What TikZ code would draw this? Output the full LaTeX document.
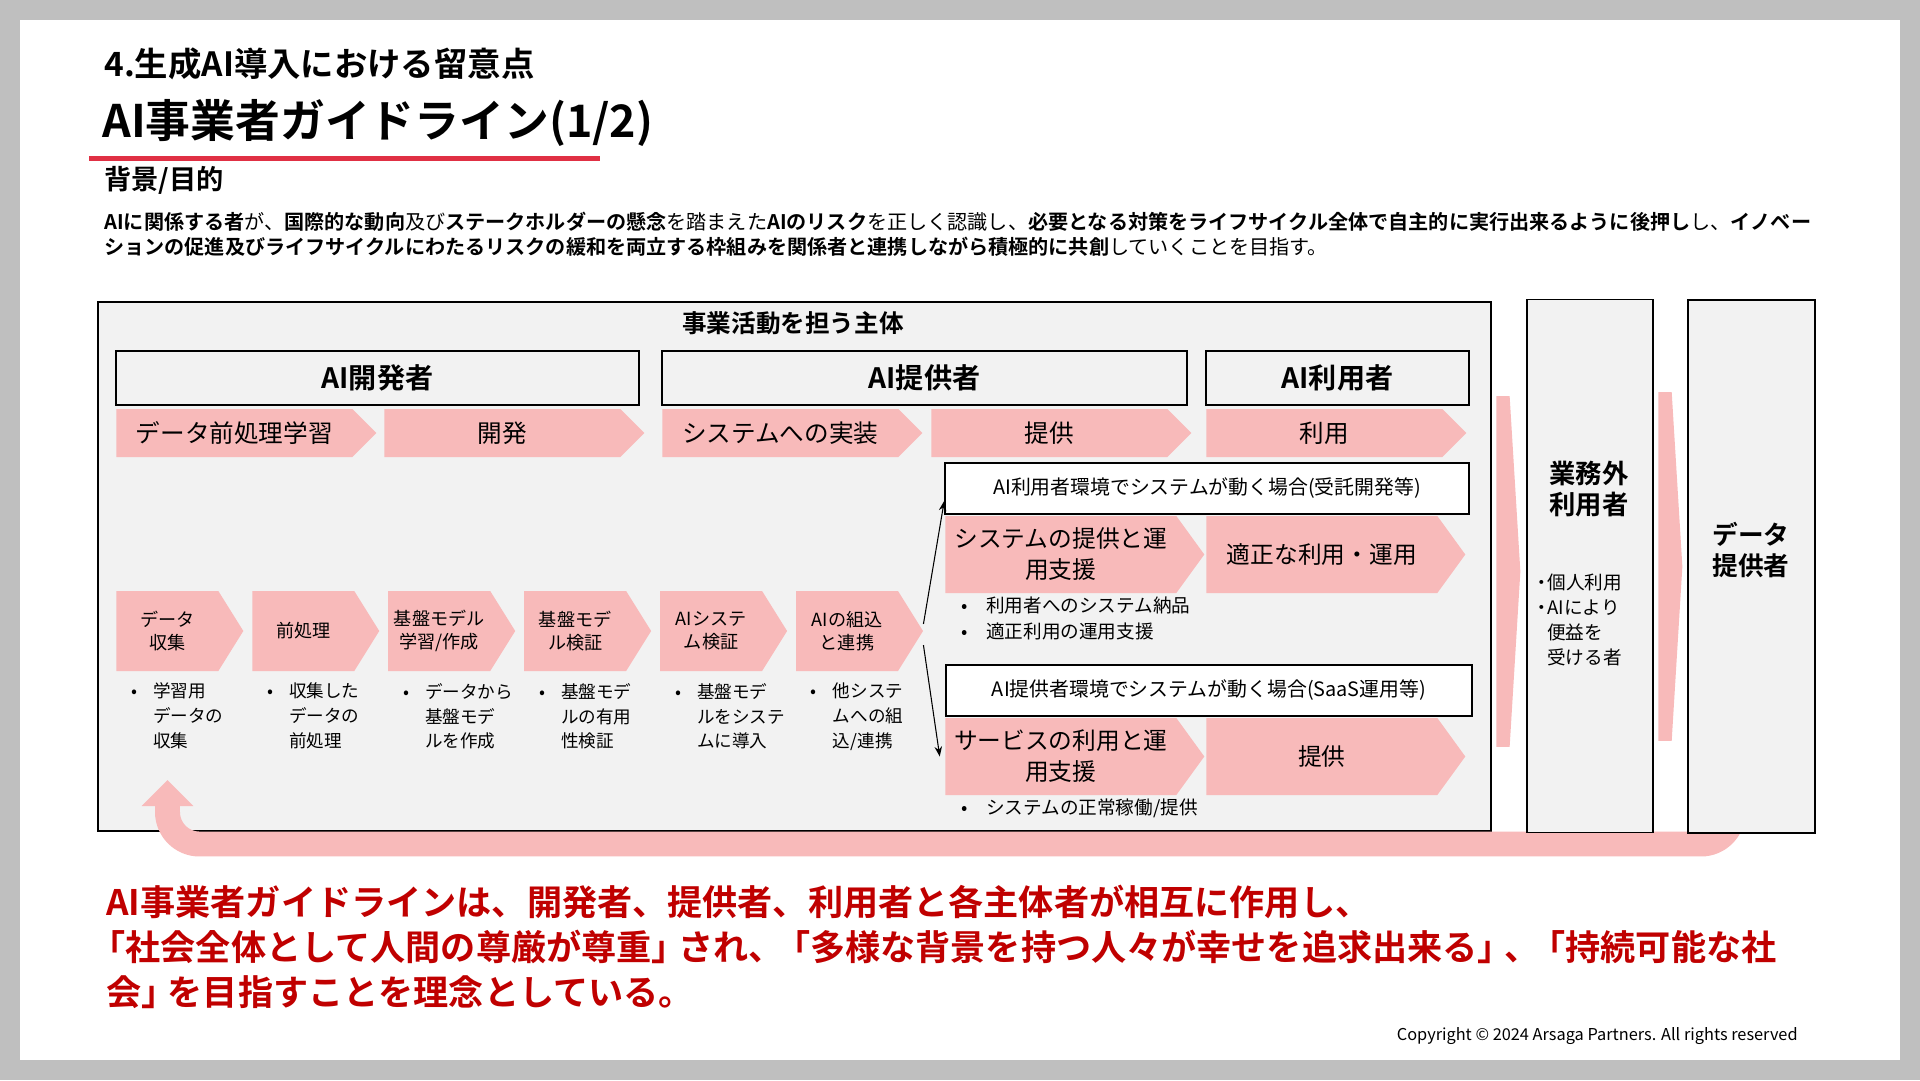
\documentclass[tikz,border=0pt]{standalone}
\usepackage{fontspec}
\setmainfont{Noto Sans CJK JP}[BoldFont={Noto Sans CJK JP Bold}]
\usetikzlibrary{arrows.meta,shapes.symbols,positioning,calc}
\definecolor{chevpink}{RGB}{248,186,186}
\definecolor{boxgray}{RGB}{242,242,242}
\definecolor{pagegray}{RGB}{191,191,191}
\definecolor{darkred}{RGB}{192,0,0}
\definecolor{linered}{RGB}{224,48,68}

\newcommand{\bu}[1][0.44cm]{\makebox[#1][l]{•}}
\newcommand{\ind}[1][0.44cm]{\hspace*{#1}}
\newcommand{\lk}{\kern-0.25em「}
\newcommand{\rk}{」\kern-0.25em}

\begin{document}
\begin{tikzpicture}[x=0.02cm, y=-0.02cm, >=Stealth,
        chev/.style={signal, signal to=east, fill=chevpink, inner sep=0pt, align=center, anchor=west},
        rowchev/.style={chev, minimum width=5.2cm, minimum height=0.96cm, signal pointer angle=90, font=\fontsize{14}{17}\selectfont},
        stepchev/.style={chev, minimum width=2.54cm, minimum height=1.6cm, signal pointer angle=116, font=\fontsize{10.3}{12.8}\selectfont},
        bigchev/.style={chev, minimum width=5.18cm, minimum height=1.54cm, signal pointer angle=108, font=\fontsize{13.5}{17.6}\selectfont},
        actor/.style={draw, line width=0.9pt, fill=boxgray, minimum height=1.08cm, font=\fontsize{16}{18}\selectfont\bfseries},
        envbox/.style={draw, line width=0.9pt, fill=white, minimum height=1.02cm, font=\fontsize{11.3}{13}\selectfont},
        sidebox/.style={draw, line width=0.9pt, fill=boxgray, minimum width=2.53cm, minimum height=10.66cm},
        bul/.style={anchor=north west, inner sep=0pt, align=left},
        tallarrow/.style={signal, signal to=east, fill=chevpink, inner sep=0pt, anchor=west, minimum width=0.48cm, signal pointer angle=173},
        link/.style={->, line width=0.6pt},
        loopband/.style={chevpink, line width=14.2pt, rounded corners=0.64cm, -{Triangle[length=0.52cm, width=1cm]}}]

    \useasboundingbox (0,0) rectangle (1920,1080);
    \fill[pagegray] (0,0) rectangle (1920,1080);
    \fill[white] (20,20) rectangle (1900,1060);

    % heading
    \node[anchor=west, inner sep=0pt, font=\fontsize{19}{22}\selectfont\bfseries] (section) at (104,64) {4.生成AI導入における留意点};
    \node[anchor=west, inner sep=0pt, font=\fontsize{25.5}{30}\selectfont\bfseries] (title) at (102,123) {AI事業者ガイドライン(1/2)};
    \draw[linered, line width=2.85pt] (89,158.5) -- (600,158.5);
    \node[anchor=west, inner sep=0pt, font=\fontsize{15.5}{18}\selectfont\bfseries] (bghead) at (104,180) {背景/目的};
    \node[anchor=west, inner sep=0pt, align=left, font=\fontsize{11.45}{14.2}\selectfont] (purpose) at (104,234.5) {\textbf{AIに関係する者}が、\textbf{国際的な動向}及び\textbf{ステークホルダーの懸念}を踏まえた\textbf{AIのリスク}を正しく認識し、\textbf{必要となる対策をライフサイクル全体で自主的に実行出来るように後押し}し、\textbf{イノベー}\\
        \textbf{ションの促進及びライフサイクルにわたるリスクの緩和を両立する枠組みを関係者と連携しながら積極的に共創}していくことを目指す。};

    % actors
    \node[draw, line width=0.9pt, fill=boxgray, minimum width=27.86cm, minimum height=10.58cm] (actors) at (794.5,566.5) {};
    \node[font=\fontsize{14}{17}\selectfont\bfseries] (actorshead) at (793,323) {事業活動を担う主体};

    \node[actor, minimum width=10.46cm] (dev) at (377.5,378) {AI開発者};
    \node[actor, minimum width=10.5cm] (prov) at (924.5,378) {AI提供者};
    \node[actor, minimum width=5.26cm] (user) at (1337.5,378) {AI利用者};

    \node[rowchev] (prep) at (116,433) {データ前処理学習};
    \node[rowchev] (devel) at (384,433) {開発};
    \node[rowchev] (impl) at (662,433) {システムへの実装};
    \node[rowchev] (supply) at (931,433) {提供};
    \node[rowchev] (usage) at (1206,433) {利用};

    % lifecycle steps
    \node[stepchev] (c1) at (116,631) {データ\\収集};
    \node[stepchev, right=0.164cm of c1] (c2) {前処理};
    \node[stepchev, right=0.164cm of c2] (c3) {基盤モデル\\学習/作成};
    \node[stepchev, right=0.164cm of c3] (c4) {基盤モデ\\ル検証};
    \node[stepchev, right=0.164cm of c4] (c5) {AIシステ\\ム検証};
    \node[stepchev, right=0.164cm of c5] (c6) {AIの組込\\と連携};

    \node[bul, font=\fontsize{10}{14.2}\selectfont] (n1) at ([xshift=8.5pt,yshift=-6.5pt]c1.south west) {\bu 学習用\\\ind データの\\\ind 収集};
    \node[bul, font=\fontsize{10}{14.2}\selectfont] (n2) at ([xshift=8.5pt,yshift=-6.5pt]c2.south west) {\bu 収集した\\\ind データの\\\ind 前処理};
    \node[bul, font=\fontsize{10}{14.2}\selectfont] (n3) at ([xshift=8.5pt,yshift=-6.5pt]c3.south west) {\bu データから\\\ind 基盤モデ\\\ind ルを作成};
    \node[bul, font=\fontsize{10}{14.2}\selectfont] (n4) at ([xshift=8.5pt,yshift=-6.5pt]c4.south west) {\bu 基盤モデ\\\ind ルの有用\\\ind 性検証};
    \node[bul, font=\fontsize{10}{14.2}\selectfont] (n5) at ([xshift=8.5pt,yshift=-6.5pt]c5.south west) {\bu 基盤モデ\\\ind ルをシステ\\\ind ムに導入};
    \node[bul, font=\fontsize{10}{14.2}\selectfont] (n6) at ([xshift=8.5pt,yshift=-6.5pt]c6.south west) {\bu 他システ\\\ind ムへの組\\\ind 込/連携};

    % two ways of running
    \node[envbox, minimum width=10.48cm] (env1) at (1207,488.5) {AI利用者環境でシステムが動く場合(受託開発等)};
    \node[bigchev] (sys) at (945,554.5) {システムの提供と運\\用支援};
    \node[bigchev] (use) at (1206,554.5) {適正な利用・運用};
    \node[bul, font=\fontsize{10.6}{14.8}\selectfont] (sysnote) at ([xshift=9pt,yshift=-2pt]sys.south west) {\bu[0.5cm]利用者へのシステム納品\\\bu[0.5cm]適正利用の運用支援};

    \node[envbox, minimum width=10.52cm] (env2) at (1209,690.5) {AI提供者環境でシステムが動く場合(SaaS運用等)};
    \node[bigchev] (svc) at (945,756.5) {サービスの利用と運\\用支援};
    \node[bigchev] (offer) at (1206,756.5) {提供};
    \node[bul, font=\fontsize{10.6}{14.8}\selectfont] (svcnote) at ([xshift=9pt,yshift=-2pt]svc.south west) {\bu[0.5cm]システムの正常稼働/提供};

    \draw[link] ([yshift=4pt]c6.east) -- ([yshift=-7pt]env1.west);
    \draw[link] ([yshift=-8pt]c6.east) -- ([xshift=-3pt]svc.west);

    % feedback loop
    \coordinate (loopstart) at (1733,800);
    \coordinate (looptip) at (167.5,780);
    \draw[loopband] (loopstart) |- ($(looptip)+(0,64)$) -- (looptip);

    % outside parties
    \node[tallarrow, minimum height=7.02cm] (toext) at (1496,571.5) {};
    \node[sidebox, minimum width=2.52cm] (ext) at (1590,566) {};
    \node[font=\fontsize{15}{18}\selectfont\bfseries, align=center] (exthead) at (1589,489) {業務外\\利用者};
    \node[bul, font=\fontsize{10.6}{14.2}\selectfont] (extnote) at (1536,574) {\makebox[0.22cm]{・}個人利用\\\makebox[0.22cm]{・}AIにより\\\ind[0.22cm]便益を\\\ind[0.22cm]受ける者};

    \node[tallarrow, minimum height=6.98cm] (todata) at (1658,566.5) {};
    \node[sidebox] (data) at (1751.5,566.5) {};
    \node[font=\fontsize{14.6}{18}\selectfont\bfseries, align=center] (datahead) at (1751,550) {データ\\提供者};

    % message
    \node[anchor=west, inner sep=0pt, align=left, text=darkred, font=\fontsize{20}{25.6}\selectfont\bfseries] (motto) at (106,947) {AI事業者ガイドラインは、開発者、提供者、利用者と各主体者が相互に作用し、\\
        \kern-0.45em「社会全体として人間の尊厳が尊重\rk され、\lk 多様な背景を持つ人々が幸せを追求出来る\rk 、\lk 持続可能な社\\
        会\rk を目指すことを理念としている。};
    \node[anchor=east, inner sep=0pt, font=\fontsize{9.3}{11}\selectfont] (copy) at (1798,1036) {Copyright © 2024 Arsaga Partners. All rights reserved};
\end{tikzpicture}
\end{document}
